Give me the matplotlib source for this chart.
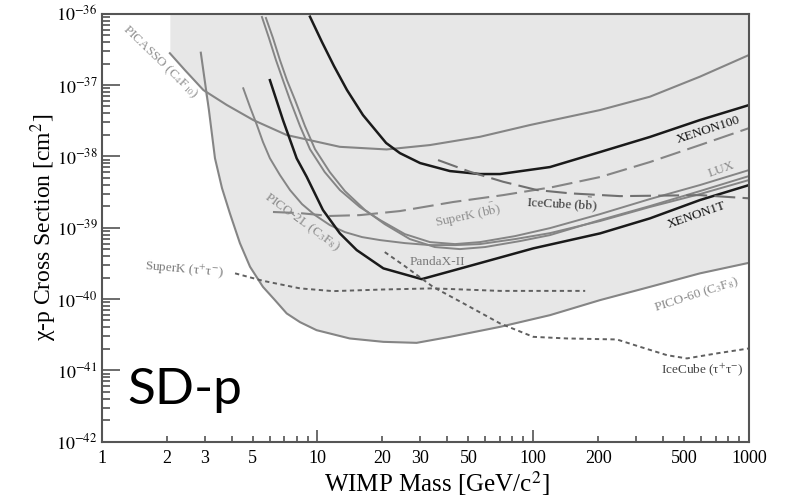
import numpy as np
import matplotlib.pyplot as plt
from matplotlib.ticker import FixedLocator, FuncFormatter, LogLocator, NullFormatter

plt.rcParams["font.family"] = ["Liberation Serif", "DejaVu Serif"]
plt.rcParams["mathtext.fontset"] = "stix"

# WIMP mass [GeV/c^2] and chi-p cross section [cm^2]
picasso_m = [2.07, 2.43, 2.96, 3.8, 5.04, 7.2, 12.7, 20.9, 33.2, 56.6, 96.6, 204, 347, 592, 1000]
picasso_s = [2.79e-37, 1.62e-37, 8.5e-38, 5.25e-38, 3.23e-38, 1.99e-38, 1.36e-38, 1.25e-38,
             1.44e-38, 1.88e-38, 2.75e-38, 4.46e-38, 6.86e-38, 1.31e-37, 2.64e-37]

pico60_m = [2.88, 3.14, 3.35, 3.61, 3.93, 4.37, 4.87, 5.59, 6.35, 7.2, 8.3, 9.9, 14.1, 20.2,
            28.8, 41.1, 70.1, 119.5, 204, 347, 592, 1000]
pico60_s = [2.84e-37, 4.46e-38, 9.4e-39, 3.59e-39, 1.58e-39, 6.08e-40, 2.83e-40, 1.48e-40,
            9.66e-41, 6.28e-41, 4.74e-41, 3.66e-41, 2.8e-41, 2.51e-41, 2.43e-41, 2.95e-41,
            4.07e-41, 5.94e-41, 9.66e-41, 1.48e-40, 2.29e-40, 3.22e-40]

pico2l_m = [4.53, 4.87, 5.24, 5.59, 6.02, 6.70, 7.46, 8.48, 9.74, 11.4, 13.4, 16.1, 19.5, 25.4,
            33.2, 43.4, 56.6, 82.3, 119.5, 204, 347, 592, 1000]
pico2l_s = [9.0e-38, 4.91e-38, 2.75e-38, 1.59e-38, 9.4e-39, 5.47e-39, 3.37e-39, 2.14e-39,
            1.5e-39, 1.09e-39, 8.67e-40, 7.38e-40, 6.7e-40, 6.08e-40, 5.7e-40, 5.7e-40,
            5.89e-40, 6.92e-40, 8.39e-40, 1.24e-39, 1.95e-39, 2.96e-39, 4.66e-39]

lux_m = [5.53, 5.96, 6.42, 6.92, 7.46, 8.3, 9.23, 10.8, 12.7, 15.7, 19.5, 25.4, 33.2, 43.4,
         56.6, 82.3, 119.5, 204, 347, 592, 1000]
lux_s = [8.99e-37, 4.56e-37, 2.24e-37, 1.17e-37, 6.17e-38, 2.66e-38, 1.26e-38, 6.03e-39,
         3.37e-39, 1.95e-39, 1.28e-39, 8.13e-40, 6.28e-40, 5.89e-40, 6.28e-40, 7.62e-40,
         9.86e-40, 1.55e-39, 2.52e-39, 3.96e-39, 6.43e-39]

pandax_m = [5.77, 6.22, 6.70, 7.22, 7.87, 8.75, 9.74, 11.4, 13.4, 16.6, 20.5, 26.8, 35.0, 45.7,
            59.7, 86.8, 119.5, 204, 347, 592, 1000]
pandax_s = [8.7e-37, 4.56e-37, 2.24e-37, 1.17e-37, 6.17e-38, 2.66e-38, 1.26e-38, 6.03e-39,
            3.26e-39, 1.77e-39, 1.12e-39, 6.92e-40, 5.35e-40, 5.01e-40, 5.35e-40, 6.49e-40,
            7.87e-40, 1.28e-39, 2.01e-39, 3.26e-39, 5.3e-39]

xenon100_m = [9.23, 10.49, 11.92, 13.7, 16.25, 20.8, 24.1, 29.9, 41.1, 56.6, 70.1, 119.5, 204,
              347, 592, 1000]
xenon100_s = [9.08e-37, 4.01e-37, 1.85e-37, 8.51e-38, 3.79e-38, 1.54e-38, 1.11e-38, 8.05e-39,
              6.22e-39, 5.65e-39, 5.65e-39, 7.08e-39, 1.15e-38, 1.87e-38, 3.23e-38, 5.24e-38]

xenon1t_m = [6.02, 6.92, 8.01, 8.91, 10.6, 12.7, 15.2, 20.2, 30.4, 49.1, 100, 204, 347, 592, 1000]
xenon1t_s = [1.17e-37, 3.23e-38, 9.37e-39, 5.18e-39, 1.77e-39, 8.32e-40, 4.85e-40, 2.69e-40,
             1.9e-40, 2.83e-40, 5.13e-40, 8.32e-40, 1.35e-39, 2.44e-39, 3.96e-39]

superk_bb_m = [6.22, 8.3, 11.4, 15.7, 24.1, 42.5, 72.4, 123, 204, 347, 592, 1000]
superk_bb_s = [1.66e-39, 1.6e-39, 1.46e-39, 1.5e-39, 1.71e-39, 2.29e-39, 2.86e-39, 3.71e-39,
               5.13e-39, 8.32e-39, 1.44e-38, 2.49e-38]

icecube_bb_m = [36.2, 50.9, 72.4, 104, 148, 252, 592, 1000]
icecube_bb_s = [8.87e-39, 6.08e-39, 4.41e-39, 3.37e-39, 3.03e-39, 2.77e-39, 2.86e-39, 2.58e-39]

superk_tau_m = [4.15, 5.59, 8.3, 11.8, 20.2, 34.3, 70.1, 174]
superk_tau_s = [2.29e-40, 1.8e-40, 1.41e-40, 1.29e-40, 1.36e-40, 1.41e-40, 1.3e-40, 1.3e-40]

icecube_tau_m = [20.5, 25.4, 34.3, 49.1, 70.1, 100, 143, 244, 312, 417, 515, 710, 1000]
icecube_tau_s = [4.55e-40, 2.89e-40, 1.48e-40, 8.22e-41, 4.55e-41, 2.95e-41, 2.8e-41, 2.71e-41,
                 2.14e-41, 1.63e-41, 1.47e-41, 1.73e-41, 2.03e-41]

x_major = [1, 10, 100, 1000]
x_labeled = [2, 3, 5, 20, 30, 50, 200, 500]
y_major = [1e-42, 1e-41, 1e-40, 1e-39, 1e-38, 1e-37, 1e-36]

GRAY = "#858585"
DARK = "#1a1a1a"


def excluded_floor():
    """Lower edge of the shaded region: the lower of PICASSO and PICO-60."""
    grid = np.unique(np.concatenate([picasso_m, pico60_m]))
    grid = grid[grid >= picasso_m[0]]
    lg = np.log10(grid)
    a = np.interp(lg, np.log10(picasso_m), np.log10(picasso_s))
    b = np.interp(lg, np.log10(pico60_m), np.log10(pico60_s), left=np.inf)
    return grid, 10 ** np.minimum(a, b)


def y_label(v, _):
    return r"$10^{%d}$" % round(np.log10(v))


fig = plt.figure(figsize=(7.9, 4.98), dpi=100)
ax = fig.add_axes([0.1287, 0.1131, 0.8195, 0.8594])
ax.set_xscale("log")
ax.set_yscale("log")
ax.set_xlim(1, 1000)
ax.set_ylim(1e-42, 1e-36)

gx, gy = excluded_floor()
ax.fill_between(gx, gy, 1e-36, color="#e7e7e7", lw=0, zorder=0)

ax.plot(picasso_m, picasso_s, color=GRAY, lw=1.5)
ax.plot(pico60_m, pico60_s, color=GRAY, lw=1.5)
ax.plot(pico2l_m, pico2l_s, color=GRAY, lw=1.4)
ax.plot(lux_m, lux_s, color=GRAY, lw=1.4)
ax.plot(pandax_m, pandax_s, color=GRAY, lw=1.4)
ax.plot(xenon100_m, xenon100_s, color=DARK, lw=1.8)
ax.plot(xenon1t_m, xenon1t_s, color=DARK, lw=1.8)
ax.plot(superk_bb_m, superk_bb_s, color=GRAY, lw=1.5, dashes=(10, 3.5))
ax.plot(icecube_bb_m, icecube_bb_s, color="#707070", lw=1.5, dashes=(10, 3.5))
ax.plot(superk_tau_m, superk_tau_s, color="#606060", lw=1.4, dashes=(2.2, 1.8))
ax.plot(icecube_tau_m, icecube_tau_s, color="#606060", lw=1.4, dashes=(2.2, 1.8))

lab = dict(ha="center", va="center", rotation_mode="anchor", fontsize=9.5)
ax.text(1.86, 2.07e-37, "PICASSO (C$_4$F$_{10}$)", color="#909090", rotation=-44, **lab)
ax.text(8.5, 1.21e-39, "PICO-2L (C$_3$F$_8$)", color="#8a8a8a", rotation=-36, **lab)
ax.text(645, 2.34e-38, "XENON100", color="#111111", rotation=18, **lab)
ax.text(748, 6.6e-39, "LUX", color="#8a8a8a", rotation=20, **lab)
ax.text(574, 1.5e-39, "XENON1T", color="#111111", rotation=19, **lab)
ax.text(136, 2.21e-39, r"IceCube (b$\bar{\mathrm{b}}$)", color="#333333", rotation=-3, **lab)
ax.text(49.8, 1.5e-39, r"SuperK (b$\bar{\mathrm{b}}$)", color="#909090", rotation=12, **lab)
ax.text(35.8, 3.3e-40, "PandaX-II", color="#7a7a7a", rotation=0, **lab)
ax.text(2.41, 2.54e-40, "SuperK (τ$^{+}$τ$^{-}$)", color="#7a7a7a", rotation=-5, **lab)
ax.text(574, 1.13e-40, "PICO-60 (C$_3$F$_8$)", color="#8a8a8a", rotation=18, **lab)
ax.text(605, 1.04e-41, "IceCube (τ$^{+}$τ$^{-}$)", color="#444444", rotation=0, **lab)

ax.text(1.31, 3.4e-42, "SD-p", family=["Lato", "DejaVu Sans"], fontsize=37,
        color="black", ha="left", va="baseline")

ax.xaxis.set_major_locator(FixedLocator(x_major))
ax.xaxis.set_major_formatter(FuncFormatter(lambda v, _: f"{v:g}"))
ax.xaxis.set_minor_locator(LogLocator(base=10, subs=np.arange(2, 10), numticks=20))
ax.xaxis.set_minor_formatter(
    FuncFormatter(lambda v, _: f"{v:g}" if any(abs(v - t) < 1e-6 * t for t in x_labeled) else ""))
ax.yaxis.set_major_locator(FixedLocator(y_major))
ax.yaxis.set_major_formatter(FuncFormatter(y_label))
ax.yaxis.set_minor_locator(LogLocator(base=10, subs=np.arange(2, 10), numticks=20))
ax.yaxis.set_minor_formatter(NullFormatter())

ax.tick_params(which="both", direction="in", top=False, right=False, color="#444444",
               labelsize=13, width=1.1)
ax.tick_params(axis="x", which="major", length=9, pad=6)
ax.tick_params(axis="x", which="minor", length=4, pad=6)
ax.tick_params(axis="y", which="major", length=13, pad=3)
ax.tick_params(axis="y", which="minor", length=6)
for sp in ax.spines.values():
    sp.set_color("#555555")
    sp.set_linewidth(1.5)

ax.set_xlabel("WIMP Mass [GeV/c$^2$]", fontsize=18)
ax.xaxis.set_label_coords(0.518, -0.064)
ax.set_ylabel("χ-p Cross Section [cm$^2$]", fontsize=17)
ax.yaxis.set_label_coords(-0.066, 0.5)

fig.savefig("out.png", dpi=100)
